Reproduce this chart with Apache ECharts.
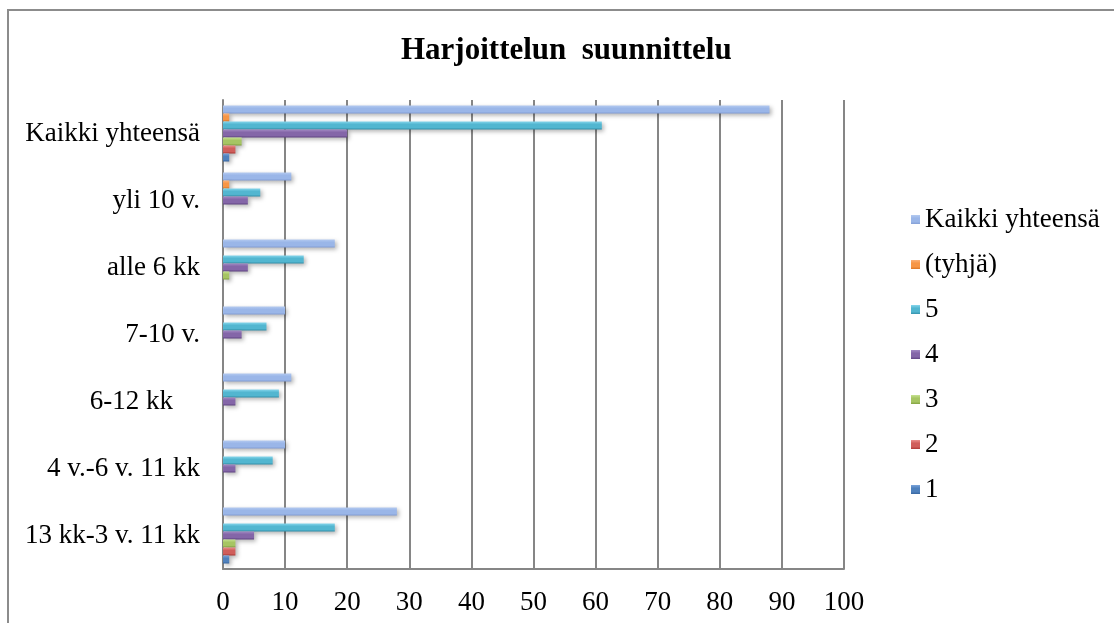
<!DOCTYPE html>
<html>
<head>
<meta charset="utf-8">
<script src="https://cdn.jsdelivr.net/npm/echarts@6/dist/echarts.min.js"></script>
<style>
  html, body { margin: 0; padding: 0; background: #fff; }
  #chart { width: 1114px; height: 623px; }
</style>
</head>
<body>
<div id="chart"></div>
<script>
// Categories, listed bottom to top along the vertical axis
const categories = ['13 kk-3 v. 11 kk', '4 v.-6 v. 11 kk', '6-12 kk    ', '7-10 v.', 'alle 6 kk', 'yli 10 v.', 'Kaikki yhteensä'];

// Counts per rating, same order as categories
const vals1      = [1, 0, 0, 0, 0, 0, 1];
const vals2      = [2, 0, 0, 0, 0, 0, 2];
const vals3      = [2, 0, 0, 0, 1, 0, 3];
const vals4      = [5, 2, 2, 3, 4, 4, 20];
const vals5      = [18, 8, 9, 7, 13, 6, 61];
const valsEmpty  = [0, 0, 0, 0, 0, 1, 1];
const valsTotal  = [28, 10, 11, 10, 18, 11, 88];

const xTicks = [0, 10, 20, 30, 40, 50, 60, 70, 80, 90, 100];

const FONT = '"Liberation Serif", "Times New Roman", serif';

function grad(top, mid, bottom) {
  return new echarts.graphic.LinearGradient(0, 0, 0, 1, [
    { offset: 0, color: top },
    { offset: 0.35, color: mid },
    { offset: 0.75, color: mid },
    { offset: 1, color: bottom }
  ]);
}

// Drawn top to bottom inside each category band
const seriesDefs = [
  { name: 'Kaikki yhteensä', data: valsTotal, c: ['#B4CAF0', '#9AB6E8', '#849FD6'] },
  { name: '(tyhjä)', data: valsEmpty, c: ['#FBB27A', '#F79646', '#DB7726'] },
  { name: '5', data: vals5, c: ['#86D6EC', '#52B6D0', '#3592AC'] },
  { name: '4', data: vals4, c: ['#A38AC4', '#8466A8', '#614584'] },
  { name: '3', data: vals3, c: ['#C6E291', '#A6C563', '#83A240'] },
  { name: '2', data: vals2, c: ['#EB908D', '#D05E5B', '#AE3A37'] },
  { name: '1', data: vals1, c: ['#7AA3DA', '#4F81BD', '#3866A0'] }
];

const chart = echarts.init(document.getElementById('chart'), null, { renderer: 'canvas' });

chart.setOption({
  backgroundColor: '#ffffff',
  animation: false,
  title: {
    text: 'Harjoittelun  suunnittelu',
    left: 396,
    top: 30,
    textStyle: { fontFamily: FONT, fontSize: 31, fontWeight: 'bold', color: '#000' }
  },
  graphic: [{
    type: 'rect',
    shape: { x: 8, y: 10, width: 1120, height: 640 },
    style: { fill: 'none', stroke: '#8c8c8c', lineWidth: 2 },
    silent: true,
    z: -10
  }],
  legend: {
    orient: 'vertical',
    left: 906,
    top: 201,
    itemWidth: 9,
    itemHeight: 9,
    itemGap: 18,
    icon: 'rect',
    data: ['Kaikki yhteensä', '(tyhjä)', '5', '4', '3', '2', '1'],
    textStyle: { fontFamily: FONT, fontSize: 27, color: '#000' }
  },
  grid: { left: 223, top: 100, width: 621, height: 469, containLabel: false },
  xAxis: {
    type: 'value',
    min: 0,
    max: 100,
    interval: 10,
    axisLine: { show: true, lineStyle: { color: '#868686', width: 2 } },
    axisTick: { show: false },
    splitLine: { show: true, lineStyle: { color: '#868686', width: 2 } },
    axisLabel: {
      margin: 20,
      fontFamily: FONT, fontSize: 27, color: '#000',
      formatter: v => xTicks.includes(v) ? String(v) : ''
    }
  },
  yAxis: {
    type: 'category',
    data: categories,
    axisLine: { show: true, lineStyle: { color: '#868686', width: 2 } },
    axisTick: { show: false },
    axisLabel: { margin: 23, fontFamily: FONT, fontSize: 27, color: '#000' }
  },
  series: seriesDefs.map(s => ({
    name: s.name,
    type: 'bar',
    data: s.data,
    barGap: '0%',
    barWidth: 8,
    itemStyle: {
      color: grad(s.c[0], s.c[1], s.c[2]),
      shadowBlur: 4,
      shadowOffsetX: 2,
      shadowOffsetY: 2,
      shadowColor: 'rgba(0,0,0,0.3)'
    },
    emphasis: { disabled: true }
  }))
});
</script>
</body>
</html>
